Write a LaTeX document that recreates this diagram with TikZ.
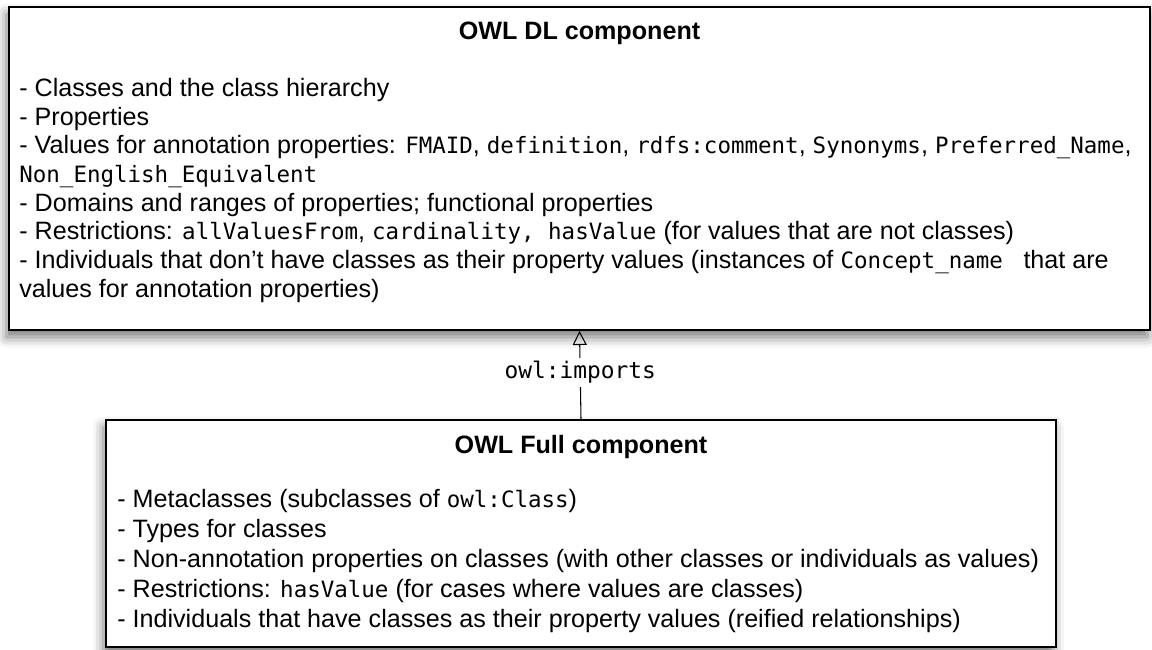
\documentclass[tikz,border=0pt]{standalone}
\usepackage{fontspec}
\setmainfont{Liberation Sans}
\setmonofont{DejaVu Sans Mono}
\usetikzlibrary{arrows.meta,positioning,shadows.blur}
\newcommand{\code}[1]{{\fontsize{12.8pt}{16pt}\selectfont\ttfamily #1}}

\begin{document}
\begin{tikzpicture}[
      x=0.02cm,y=-0.02cm,
      comp/.style={draw=black,line width=1.1pt,fill=white,inner sep=0pt,
                   blur shadow={shadow xshift=-1.5pt,shadow yshift=-4pt,
                                shadow blur radius=6pt,shadow opacity=55}},
      ttl/.style={font=\fontsize{14.3pt}{17pt}\selectfont\bfseries},
      body/.style={align=left,anchor=base west,inner sep=0pt},
      lbl/.style={font=\fontsize{13pt}{16pt}\selectfont\ttfamily,fill=white,inner sep=2pt}]
    \useasboundingbox (0,0) rectangle (1152,649);
    \node[comp,minimum width=22.82cm,minimum height=6.46cm] (dlbox) at (579.5,168.5) {};
    \node[comp,minimum width=19cm,minimum height=4.54cm] (fullbox) at (581,533.5) {};
    \node[ttl] (dltitle) at (579.5,33) {OWL DL component};
    % base anchor sits on the last line
    \node[body,font=\fontsize{14.3pt}{16.3pt}\selectfont] (dlbody) at (19,297)
        {- Classes and the class hierarchy\\
         - Properties\\
         - Values for annotation properties: \code{FMAID}, \code{definition}, \code{rdfs:comment}, \code{Synonyms}, \code{Preferred\_Name},\\
         \code{Non\_English\_Equivalent}\\
         - Domains and ranges of properties; functional properties\\
         - Restrictions: \code{allValuesFrom}, \code{cardinality, hasValue} (for values that are not classes)\\
         - Individuals that don't have classes as their property values (instances of \code{Concept\_name\ } that are\\
         values for annotation properties)};
    \node[ttl] (fulltitle) at (581,447) {OWL Full component};
    \node[body,font=\fontsize{14.3pt}{17pt}\selectfont] (fullbody) at (117,627)
        {- Metaclasses (subclasses of \code{owl:Class})\\
         - Types for classes\\
         - Non-annotation properties on classes (with other classes or individuals as values)\\
         - Restrictions: \code{hasValue} (for cases where values are classes)\\
         - Individuals that have classes as their property values (reified relationships)};
    \draw[line width=0.6pt,-{Triangle[open,length=8pt,width=8pt]}] (fullbox.north) -- (dlbox.south)
        node[lbl,pos=0.53] (imp) {owl:imports};
  \end{tikzpicture}
\end{document}
